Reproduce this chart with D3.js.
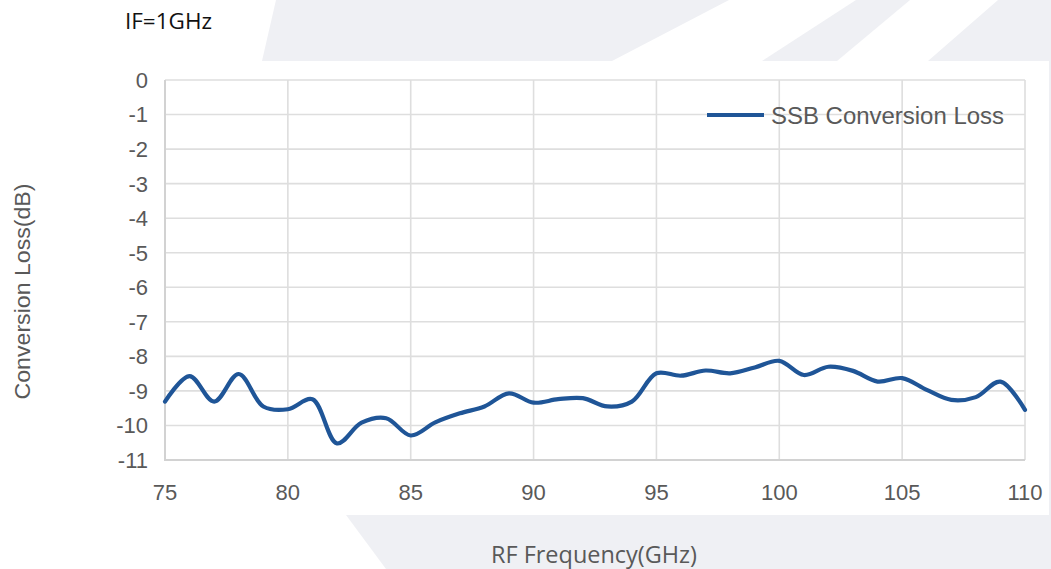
<!DOCTYPE html>
<html>
<head>
<meta charset="utf-8">
<script src="https://cdn.jsdelivr.net/npm/d3@7"></script>
<style>
  html, body { margin: 0; padding: 0; background: #ffffff; }
  svg { display: block; }
</style>
</head>
<body>
<svg id="chart" width="1051" height="569"></svg>
<script>
// ---- data ----
const frequencies = [75, 76, 77, 78, 79, 80, 81, 82, 83, 84, 85, 86, 87, 88, 89, 90, 91, 92,
  93, 94, 95, 96, 97, 98, 99, 100, 101, 102, 103, 104, 105, 106, 107, 108, 109, 110];
const conversionLoss = [-9.31, -8.57, -9.31, -8.51, -9.45, -9.53, -9.24, -10.52, -9.92, -9.79,
  -10.29, -9.91, -9.65, -9.45, -9.07, -9.34, -9.24, -9.21, -9.45, -9.31, -8.49, -8.56, -8.41,
  -8.49, -8.32, -8.13, -8.54, -8.30, -8.42, -8.73, -8.63, -8.97, -9.26, -9.18, -8.73, -9.55];
const xTicks = [75, 80, 85, 90, 95, 100, 105, 110];
const yTicks = [0, -1, -2, -3, -4, -5, -6, -7, -8, -9, -10, -11];
const seriesName = "SSB Conversion Loss";
const chartTitle = "IF=1GHz";
const xTitle = "RF Frequency(GHz)";
const yTitle = "Conversion Loss(dB)";

// ---- layout ----
const svg = d3.select("#chart");
const plot = { left: 165, right: 1025, top: 80, bottom: 460 };
const bgGray = "#eff0f4";
const textGray = "#595959";

// background watermark shapes
const shapes = [
  [[262, 61], [276, 0], [729, 0], [612, 61]],
  [[762, 61], [856, 0], [910, 0], [837, 61]],
  [[928, 61], [998, 0], [1051, 0], [1051, 61]],
  [[346, 515], [1051, 515], [1051, 569], [386, 569]],
  [[1049, 61], [1051, 61], [1051, 515], [1049, 515]]
];
svg.selectAll("polygon.bg").data(shapes).join("polygon")
  .attr("class", "bg")
  .attr("points", d => d.map(p => p.join(",")).join(" "))
  .attr("fill", bgGray);

// scales
const x = d3.scaleLinear().domain([75, 110]).range([plot.left, plot.right]);
const y = d3.scaleLinear().domain([-11, 0]).range([plot.bottom, plot.top]);

// gridlines
const grid = svg.append("g");
grid.selectAll("line.h").data(yTicks.filter(t => t !== -11)).join("line")
  .attr("x1", plot.left).attr("x2", plot.right)
  .attr("y1", d => y(d)).attr("y2", d => y(d))
  .attr("stroke", "#dedede").attr("stroke-width", 1.6);
grid.selectAll("line.v").data(xTicks.filter(t => t !== 75)).join("line")
  .attr("y1", plot.top).attr("y2", plot.bottom)
  .attr("x1", d => x(d)).attr("x2", d => x(d))
  .attr("stroke", "#dedede").attr("stroke-width", 1.6);

// axis lines
svg.append("line")
  .attr("x1", x(75)).attr("x2", x(75)).attr("y1", plot.top).attr("y2", y(-11) + 1)
  .attr("stroke", "#d2d2d2").attr("stroke-width", 2);
svg.append("line")
  .attr("x1", x(75) - 1).attr("x2", x(110)).attr("y1", y(-11)).attr("y2", y(-11))
  .attr("stroke", "#d2d2d2").attr("stroke-width", 2);

// tick labels
svg.append("g").selectAll("text").data(yTicks).join("text")
  .attr("x", plot.left - 17)
  .attr("y", d => y(d))
  .attr("dy", "0.36em")
  .attr("text-anchor", "end")
  .attr("font-family", "'Liberation Sans', Arial, sans-serif")
  .attr("font-size", 22)
  .attr("fill", textGray)
  .text(d => d);

svg.append("g").selectAll("text").data(xTicks).join("text")
  .attr("x", d => x(d))
  .attr("y", plot.bottom + 40)
  .attr("text-anchor", "middle")
  .attr("font-family", "'Liberation Sans', Arial, sans-serif")
  .attr("font-size", 22)
  .attr("fill", textGray)
  .text(d => d);

// line
const data = frequencies.map((f, i) => ({ f, v: conversionLoss[i] }));
const line = d3.line().x(d => x(d.f)).y(d => y(d.v)).curve(d3.curveCatmullRom.alpha(0.5));
svg.append("path")
  .datum(data)
  .attr("d", line)
  .attr("fill", "none")
  .attr("stroke", "#1f5597")
  .attr("stroke-width", 4.2)
  .attr("stroke-linejoin", "round")
  .attr("stroke-linecap", "round");

// legend
const lg = svg.append("g");
lg.append("line")
  .attr("x1", 707).attr("x2", 764).attr("y1", 115).attr("y2", 115)
  .attr("stroke", "#1f5597").attr("stroke-width", 4);
lg.append("text")
  .attr("x", 771).attr("y", 123.5)
  .attr("font-family", "'Liberation Sans', Arial, sans-serif")
  .attr("font-size", 23.5)
  .attr("fill", textGray)
  .attr("textLength", 233)
  .attr("lengthAdjust", "spacingAndGlyphs")
  .text(seriesName);

// titles
svg.append("text")
  .attr("x", 125).attr("y", 29)
  .attr("font-family", "'Open Sans', sans-serif")
  .attr("font-size", 22)
  .attr("fill", "#111111")
  .attr("textLength", 87)
  .attr("lengthAdjust", "spacingAndGlyphs")
  .text(chartTitle);

svg.append("text")
  .attr("x", 491).attr("y", 563)
  .attr("font-family", "'Open Sans', sans-serif")
  .attr("font-size", 23)
  .attr("fill", textGray)
  .attr("textLength", 206)
  .attr("lengthAdjust", "spacingAndGlyphs")
  .text(xTitle);

svg.append("text")
  .attr("transform", "translate(30,291.5) rotate(-90)")
  .attr("text-anchor", "middle")
  .attr("font-family", "'Liberation Sans', Arial, sans-serif")
  .attr("font-size", 22)
  .attr("fill", textGray)
  .attr("textLength", 216)
  .attr("lengthAdjust", "spacingAndGlyphs")
  .text(yTitle);
</script>
</body>
</html>
